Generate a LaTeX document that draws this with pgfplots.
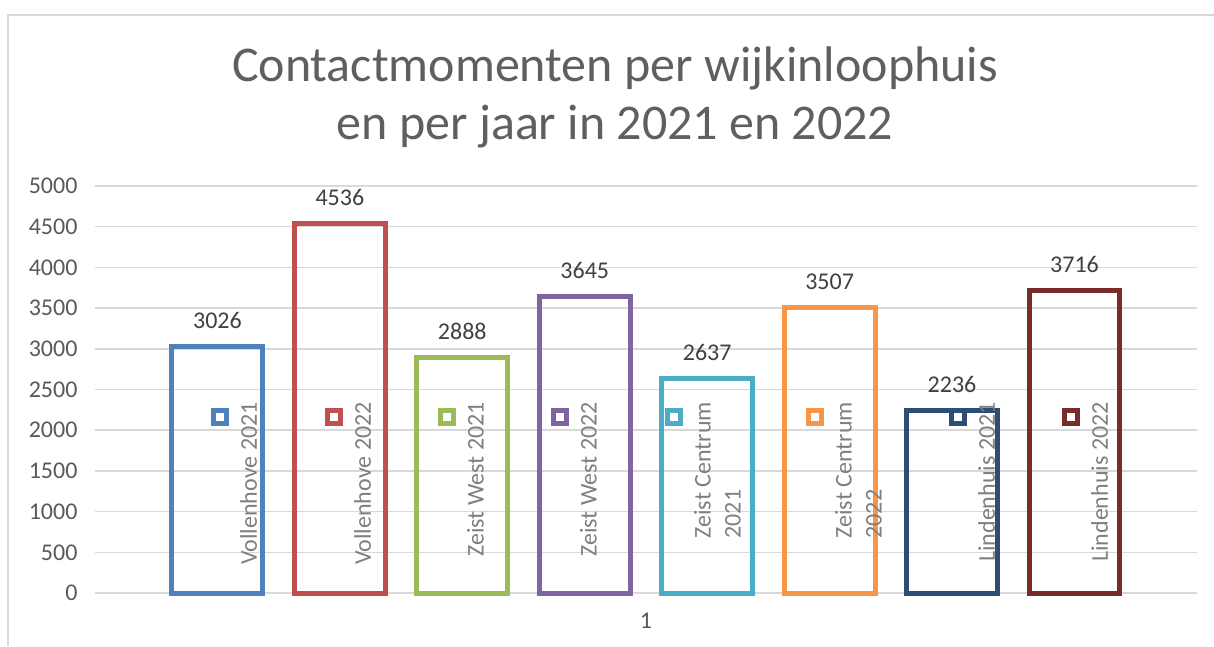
\documentclass[border=0pt]{standalone}
\usepackage{fontspec}
\setmainfont{Carlito}
\usepackage{pgfplots}
\pgfplotsset{compat=1.18}
\definecolor{c1}{HTML}{4F81BD}
\definecolor{c2}{HTML}{C0504D}
\definecolor{c3}{HTML}{9BBB59}
\definecolor{c4}{HTML}{8064A2}
\definecolor{c5}{HTML}{4BACC6}
\definecolor{c6}{HTML}{F79646}
\definecolor{c7}{HTML}{2C4D75}
\definecolor{c8}{HTML}{772C2A}
\definecolor{gridgray}{HTML}{D9D9D9}
\definecolor{tickgray}{HTML}{595959}
\definecolor{titlegray}{HTML}{5F5F5F}
\definecolor{labelgray}{HTML}{404040}
\definecolor{leggray}{HTML}{7F7F7F}
\begin{document}
\begin{tikzpicture}[x=1pt,y=1pt]
\path[use as bounding box] (0,0) rectangle (1214,646);
\draw[color=gridgray, line width=2.5pt] (8,0) -- (8,631) -- (1214,631);
\node[font=\fontsize{50}{60}\selectfont, text=titlegray, anchor=base, inner sep=0pt] at (615,564) {Contactmomenten per wijkinloophuis};
\node[font=\fontsize{50}{60}\selectfont, text=titlegray, anchor=base, inner sep=0pt] at (615,506) {en per jaar in 2021 en 2022};
\begin{axis}[at={(95pt,53pt)}, anchor=south west, scale only axis,
  width=1102pt, height=407pt,
  xmin=0, xmax=9, ymin=0, ymax=5000,
  ybar, bar width=0.743,
  ytick={0,500,...,5000}, xtick={4.5}, xticklabels={1},
  ymajorgrids, grid style={line width=1.5pt, color=gridgray},
  axis line style={draw=none}, major tick length=0pt,
  tick label style={font=\fontsize{24}{28}\selectfont, text=tickgray},
  /pgf/number format/assume math mode=true,
  /pgf/number format/1000 sep={},
  yticklabel style={xshift=-14pt},
  xticklabel style={yshift=-17pt},
  nodes near coords,
  every node near coord/.append style={font=\fontsize{24}{28}\selectfont, text=labelgray, anchor=base, yshift=18pt, inner sep=0pt},
  clip=false]
\addplot[draw=c1, fill=none, line width=5pt, bar shift=0pt] coordinates {(1,3026)};
\addplot[draw=c2, fill=none, line width=5pt, bar shift=0pt] coordinates {(2,4536)};
\addplot[draw=c3, fill=none, line width=5pt, bar shift=0pt] coordinates {(3,2888)};
\addplot[draw=c4, fill=none, line width=5pt, bar shift=0pt] coordinates {(4,3645)};
\addplot[draw=c5, fill=none, line width=5pt, bar shift=0pt] coordinates {(5,2637)};
\addplot[draw=c6, fill=none, line width=5pt, bar shift=0pt] coordinates {(6,3507)};
\addplot[draw=c7, fill=none, line width=5pt, bar shift=0pt] coordinates {(7,2236)};
\addplot[draw=c8, fill=none, line width=5pt, bar shift=0pt] coordinates {(8,3716)};
\end{axis}
\foreach \xc/\col/\txt in {220/c1/{Vollenhove 2021}, 334/c2/{Vollenhove 2022}, 447/c3/{Zeist West 2021}, 560/c4/{Zeist West 2022}, 674/c5/{Zeist Centrum\\2021}, 815/c6/{Zeist Centrum\\2022}, 958/c7/{Lindenhuis 2021}, 1071/c8/{Lindenhuis 2022}}{
  \fill[white] (\xc-6.5,223) rectangle ++(13,13);
  \draw[\col, line width=5pt] (\xc-6.5,223) rectangle ++(13,13);
  \node[rotate=90, anchor=north east, inner sep=0pt, align=left, text=leggray, font=\fontsize{24}{30}\selectfont] at (\xc+20,244) {\txt};
}
\end{tikzpicture}
\end{document}
